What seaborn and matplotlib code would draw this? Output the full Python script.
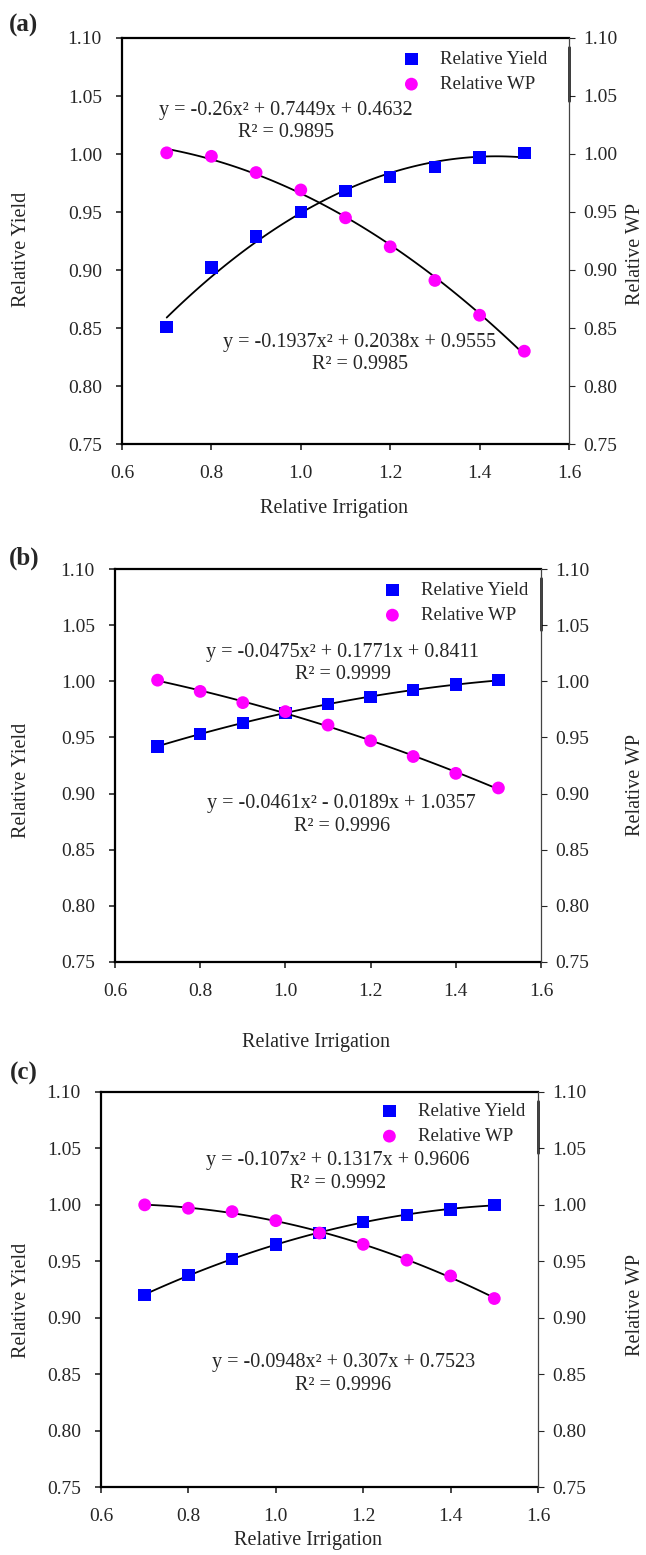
import numpy as np
import pandas as pd
import matplotlib
matplotlib.use("Agg")
import matplotlib.pyplot as plt
import seaborn as sns

# ---------------- data ----------------
irrigation = [0.7, 0.8, 0.9, 1.0, 1.1, 1.2, 1.3, 1.4, 1.5]

yield_a = [0.851, 0.902, 0.929, 0.950, 0.968, 0.980, 0.989, 0.997, 1.001]
wp_a = [1.001, 0.998, 0.984, 0.969, 0.945, 0.920, 0.891, 0.861, 0.830]

yield_b = [0.942, 0.953, 0.963, 0.972, 0.980, 0.986, 0.992, 0.997, 1.001]
wp_b = [1.001, 0.991, 0.981, 0.973, 0.961, 0.947, 0.933, 0.918, 0.905]

yield_c = [0.920, 0.938, 0.952, 0.965, 0.975, 0.985, 0.991, 0.996, 1.000]
wp_c = [1.000, 0.997, 0.994, 0.986, 0.975, 0.965, 0.951, 0.937, 0.917]

panel_labels = ["(a)", "(b)", "(c)"]
eq_yield = ["y = -0.26x\u00b2 + 0.7449x + 0.4632\nR\u00b2 = 0.9895",
            "y = -0.0475x\u00b2 + 0.1771x + 0.8411\nR\u00b2 = 0.9999",
            "y = -0.107x\u00b2 + 0.1317x + 0.9606\nR\u00b2 = 0.9992"]
eq_wp = ["y = -0.1937x\u00b2 + 0.2038x + 0.9555\nR\u00b2 = 0.9985",
         "y = -0.0461x\u00b2 - 0.0189x + 1.0357\nR\u00b2 = 0.9996",
         "y = -0.0948x\u00b2 + 0.307x + 0.7523\nR\u00b2 = 0.9996"]

y_ticks = [0.75, 0.80, 0.85, 0.90, 0.95, 1.00, 1.05, 1.10]
x_ticks = [0.6, 0.8, 1.0, 1.2, 1.4, 1.6]

# ---------------- style ----------------
sns.set_style("ticks")
plt.rcParams["font.family"] = ["Liberation Serif", "DejaVu Serif"]

W, H = 646, 1555
fig = plt.figure(figsize=(W / 100, H / 100), dpi=100)

# axes boxes in pixels: left, top, right, bottom
boxes = [(122, 38, 569, 444), (115, 569, 541, 962), (101, 1092, 538, 1487)]
# equation anchor positions (data coords)
eq1_pos = [(0.966, 1.028), (1.135, 1.016), (1.142, 1.029)]
eq2_pos = [(1.132, 0.828), (1.132, 0.881), (1.154, 0.850)]
# legend marker center (pixels)
leg_pos = [(411, 72), (392, 603), (389, 1124)]
label_pos = [(24, 25), (24, 558), (24, 1073)]
ylabel_y = [249, 780, 1300]
xlabel_y = [509, 1043, 1541]

datasets = [(yield_a, wp_a), (yield_b, wp_b), (yield_c, wp_c)]

TICK_FS = 14
for i, (yv, wv) in enumerate(datasets):
    l, t, r, b = boxes[i]
    ax = fig.add_axes([l / W, 1 - b / H, (r - l) / W, (b - t) / H])
    ax2 = ax.twinx()
    df = pd.DataFrame({"Relative Irrigation": irrigation,
                       "Relative Yield": yv, "Relative WP": wv})

    sns.regplot(data=df, x="Relative Irrigation", y="Relative Yield", order=2,
                ci=None, scatter=False, ax=ax,
                line_kws=dict(color="black", lw=1.3))
    sns.regplot(data=df, x="Relative Irrigation", y="Relative WP", order=2,
                ci=None, scatter=False, ax=ax2,
                line_kws=dict(color="black", lw=1.3))
    sns.scatterplot(data=df, x="Relative Irrigation", y="Relative Yield",
                    marker="s", color="#0000FF", s=80, edgecolor="none",
                    ax=ax, label="Relative Yield", legend=False, zorder=3)
    sns.scatterplot(data=df, x="Relative Irrigation", y="Relative WP",
                    marker="o", color="#FF00FF", s=85, edgecolor="none",
                    ax=ax2, label="Relative WP", legend=False, zorder=3)

    for a in (ax, ax2):
        a.set_xlim(0.6, 1.6)
        a.set_ylim(0.75, 1.10)
        a.set_yticks(y_ticks)
        a.set_yticklabels([f"{v:.2f}" for v in y_ticks])
    ax.set_xticks(x_ticks)
    ax.set_xticklabels([f"{v:.1f}" for v in x_ticks])

    ax.tick_params(axis="y", direction="out", length=4, width=1.2,
                   labelsize=TICK_FS, pad=10.5)
    ax.tick_params(axis="x", direction="out", length=4, width=1.2,
                   labelsize=TICK_FS, pad=11)
    ax2.tick_params(axis="y", direction="out", length=4, width=0.8,
                    labelsize=TICK_FS, pad=6)

    for sp in ["left", "bottom", "top"]:
        ax.spines[sp].set_linewidth(1.6)
        ax.spines[sp].set_color("black")
    ax2.spines["left"].set_visible(False)
    ax2.spines["bottom"].set_visible(False)
    ax2.spines["top"].set_visible(False)
    ax.spines["right"].set_visible(False)
    ax2.spines["right"].set_linewidth(0.9)
    ax2.spines["right"].set_color("#444444")
    # thicker segment of the right frame next to the legend
    ax2.axvline(1.6, ymin=(1.046 - 0.75) / 0.35, ymax=(1.092 - 0.75) / 0.35,
                color="black", lw=1.8, clip_on=False)

    ax.set_xlabel("")
    ax.set_ylabel("")
    ax2.set_ylabel("")

    # equations
    ax.text(*eq1_pos[i], eq_yield[i], ha="center", va="center",
            fontsize=14.5, linespacing=1.25, zorder=5)
    ax.text(*eq2_pos[i], eq_wp[i], ha="center", va="center",
            fontsize=14.5, linespacing=1.25, zorder=5)

    # legend
    h1, l1 = ax.get_legend_handles_labels()
    h2, l2 = ax2.get_legend_handles_labels()
    mx, my = leg_pos[i]
    leg = ax2.legend(h1 + h2, l1 + l2, loc="center left",
                     bbox_to_anchor=((mx - 9) / W, 1 - my / H),
                     bbox_transform=fig.transFigure, frameon=False,
                     fontsize=13.5, handlelength=1.0, handletextpad=1.05,
                     borderpad=0, borderaxespad=0, labelspacing=0.42,
                     markerscale=1.0)

    # labels in figure coordinates
    fig.text(label_pos[i][0] / W, 1 - label_pos[i][1] / H, panel_labels[i],
             ha="center", va="center", fontsize=18, fontweight="bold")
    fig.text(22 / W, 1 - ylabel_y[i] / H, "Relative Yield", rotation=90,
             ha="center", va="center", fontsize=14.5)
    fig.text(635 / W, 1 - (ylabel_y[i] + 5) / H, "Relative WP", rotation=90,
             ha="center", va="center", fontsize=14.5)
    fig.text(((l + r) / 2 - 12) / W, 1 - xlabel_y[i] / H, "Relative Irrigation",
             ha="center", va="center", fontsize=14.5)

fig.savefig("out.png", dpi=100, facecolor="white")
